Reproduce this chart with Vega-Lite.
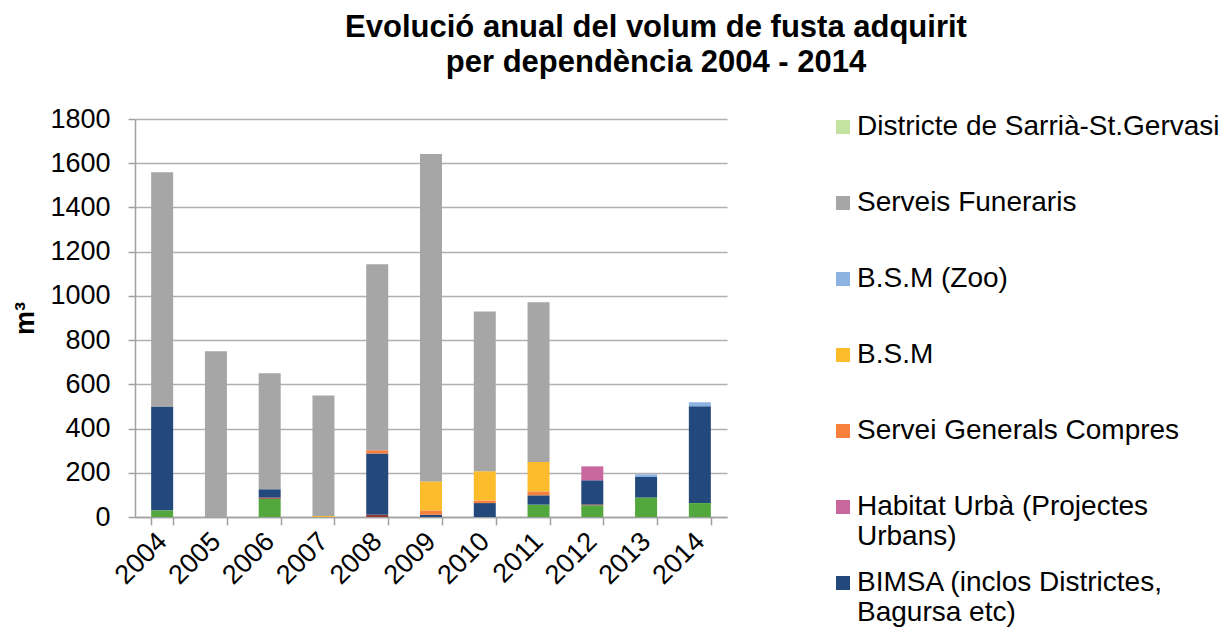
{
  "$schema": "https://vega.github.io/schema/vega-lite/v6.json",
  "autosize": {"type": "none"},
  "width": 592,
  "height": 398,
  "padding": {"left": 135, "top": 119, "right": 505, "bottom": 121},
  "background": "white",
  "config": {
    "font": "Liberation Sans",
    "view": {"stroke": null}
  },
  "title": {
    "text": ["Evolució anual del volum de fusta adquirit", "per dependència 2004 - 2014"],
    "font": "Liberation Sans",
    "fontSize": 31,
    "fontWeight": "bold",
    "color": "#000000",
    "anchor": "middle",
    "dx": 225,
    "offset": 26,
    "lineHeight": 35
  },
  "data": {
    "values": [
      {"year": "2004", "dep": "Parcs i Jardins", "m3": 30},
      {"year": "2004", "dep": "BIMSA (inclos Districtes, Bagursa etc)", "m3": 470},
      {"year": "2004", "dep": "Serveis Funeraris", "m3": 1059},
      {"year": "2005", "dep": "Serveis Funeraris", "m3": 750},
      {"year": "2006", "dep": "Parcs i Jardins", "m3": 83},
      {"year": "2006", "dep": "Altres", "m3": 5},
      {"year": "2006", "dep": "BIMSA (inclos Districtes, Bagursa etc)", "m3": 37},
      {"year": "2006", "dep": "Serveis Funeraris", "m3": 525},
      {"year": "2007", "dep": "B.S.M", "m3": 5},
      {"year": "2007", "dep": "Serveis Funeraris", "m3": 545},
      {"year": "2008", "dep": "Altres", "m3": 10},
      {"year": "2008", "dep": "BIMSA (inclos Districtes, Bagursa etc)", "m3": 277},
      {"year": "2008", "dep": "Servei Generals Compres", "m3": 15},
      {"year": "2008", "dep": "Serveis Funeraris", "m3": 841},
      {"year": "2009", "dep": "BIMSA (inclos Districtes, Bagursa etc)", "m3": 10},
      {"year": "2009", "dep": "Servei Generals Compres", "m3": 20},
      {"year": "2009", "dep": "B.S.M", "m3": 131},
      {"year": "2009", "dep": "Serveis Funeraris", "m3": 1481},
      {"year": "2010", "dep": "BIMSA (inclos Districtes, Bagursa etc)", "m3": 63},
      {"year": "2010", "dep": "Servei Generals Compres", "m3": 12},
      {"year": "2010", "dep": "B.S.M", "m3": 132},
      {"year": "2010", "dep": "Serveis Funeraris", "m3": 722},
      {"year": "2011", "dep": "Parcs i Jardins", "m3": 56},
      {"year": "2011", "dep": "BIMSA (inclos Districtes, Bagursa etc)", "m3": 42},
      {"year": "2011", "dep": "Servei Generals Compres", "m3": 18},
      {"year": "2011", "dep": "B.S.M", "m3": 133},
      {"year": "2011", "dep": "Serveis Funeraris", "m3": 722},
      {"year": "2012", "dep": "Parcs i Jardins", "m3": 53},
      {"year": "2012", "dep": "Altres", "m3": 4},
      {"year": "2012", "dep": "BIMSA (inclos Districtes, Bagursa etc)", "m3": 109},
      {"year": "2012", "dep": "Habitat Urbà (Projectes Urbans)", "m3": 63},
      {"year": "2013", "dep": "Parcs i Jardins", "m3": 88},
      {"year": "2013", "dep": "BIMSA (inclos Districtes, Bagursa etc)", "m3": 93},
      {"year": "2013", "dep": "B.S.M (Zoo)", "m3": 12},
      {"year": "2014", "dep": "Parcs i Jardins", "m3": 63},
      {"year": "2014", "dep": "BIMSA (inclos Districtes, Bagursa etc)", "m3": 438},
      {"year": "2014", "dep": "B.S.M (Zoo)", "m3": 18}
    ]
  },
  "transform": [
    {"calculate": "indexof(['Parcs i Jardins','Altres','BIMSA (inclos Districtes, Bagursa etc)','Habitat Urbà (Projectes Urbans)','Servei Generals Compres','B.S.M','B.S.M (Zoo)','Serveis Funeraris','Districte de Sarrià-St.Gervasi'], datum.dep)", "as": "k"}
  ],
  "mark": {"type": "bar", "width": 22},
  "encoding": {
    "x": {
      "field": "year",
      "type": "nominal",
      "scale": {"paddingInner": 0.59, "paddingOuter": 0.3},
      "axis": {
        "title": null,
        "labelAngle": -45,
        "labelAlign": "right",
        "labelBaseline": "middle",
        "labelFontSize": 27,
        "labelColor": "#000000",
        "labelPadding": 12,
        "tickBand": "extent",
        "tickSize": 8,
        "tickColor": "#a0a0a0",
        "tickWidth": 1.5,
        "domainColor": "#a0a0a0",
        "domainWidth": 1.5,
        "grid": false
      }
    },
    "y": {
      "field": "m3",
      "type": "quantitative",
      "aggregate": "sum",
      "stack": "zero",
      "scale": {"domain": [0, 1800], "nice": false},
      "axis": {
        "title": "m³",
        "titleFontSize": 27,
        "titleFontWeight": "bold",
        "titleColor": "#000000",
        "titlePadding": 10,
        "format": "d",
        "values": [0, 200, 400, 600, 800, 1000, 1200, 1400, 1600, 1800],
        "labelFontSize": 27,
        "labelColor": "#000000",
        "labelPadding": 18,
        "tickSize": 7,
        "tickColor": "#a0a0a0",
        "tickWidth": 1.5,
        "domainColor": "#a0a0a0",
        "domainWidth": 1.5,
        "gridColor": "#b0b0b0",
        "gridWidth": 1.5
      }
    },
    "color": {
      "field": "dep",
      "type": "nominal",
      "scale": {
        "domain": ["Parcs i Jardins", "Altres", "BIMSA (inclos Districtes, Bagursa etc)", "Habitat Urbà (Projectes Urbans)", "Servei Generals Compres", "B.S.M", "B.S.M (Zoo)", "Serveis Funeraris", "Districte de Sarrià-St.Gervasi"],
        "range": ["#52a83c", "#953735", "#23497c", "#c8679e", "#f7803c", "#fdbc2c", "#8db3e2", "#a6a6a6", "#c4e3a0"]
      },
      "legend": {
        "title": null,
        "orient": "none",
        "legendX": 694,
        "legendY": -6,
        "values": ["Districte de Sarrià-St.Gervasi", "Serveis Funeraris", "B.S.M (Zoo)", "B.S.M", "Servei Generals Compres", "Habitat Urbà (Projectes Urbans)", "BIMSA (inclos Districtes, Bagursa etc)"],
        "symbolType": "square",
        "symbolSize": 196,
        "symbolStrokeWidth": 0,
        "symbolOpacity": 1,
        "labelFontSize": 28,
        "labelColor": "#000000",
        "labelLimit": 500,
        "labelOffset": 0,
        "gridAlign": "all",
        "rowPadding": 18,
        "labelExpr": "datum.label == 'Habitat Urbà (Projectes Urbans)' ? ['Habitat Urbà (Projectes', 'Urbans)'] : datum.label == 'BIMSA (inclos Districtes, Bagursa etc)' ? ['BIMSA (inclos Districtes,', 'Bagursa etc)'] : datum.label"
      }
    },
    "order": {"field": "k", "type": "quantitative"}
  }
}
